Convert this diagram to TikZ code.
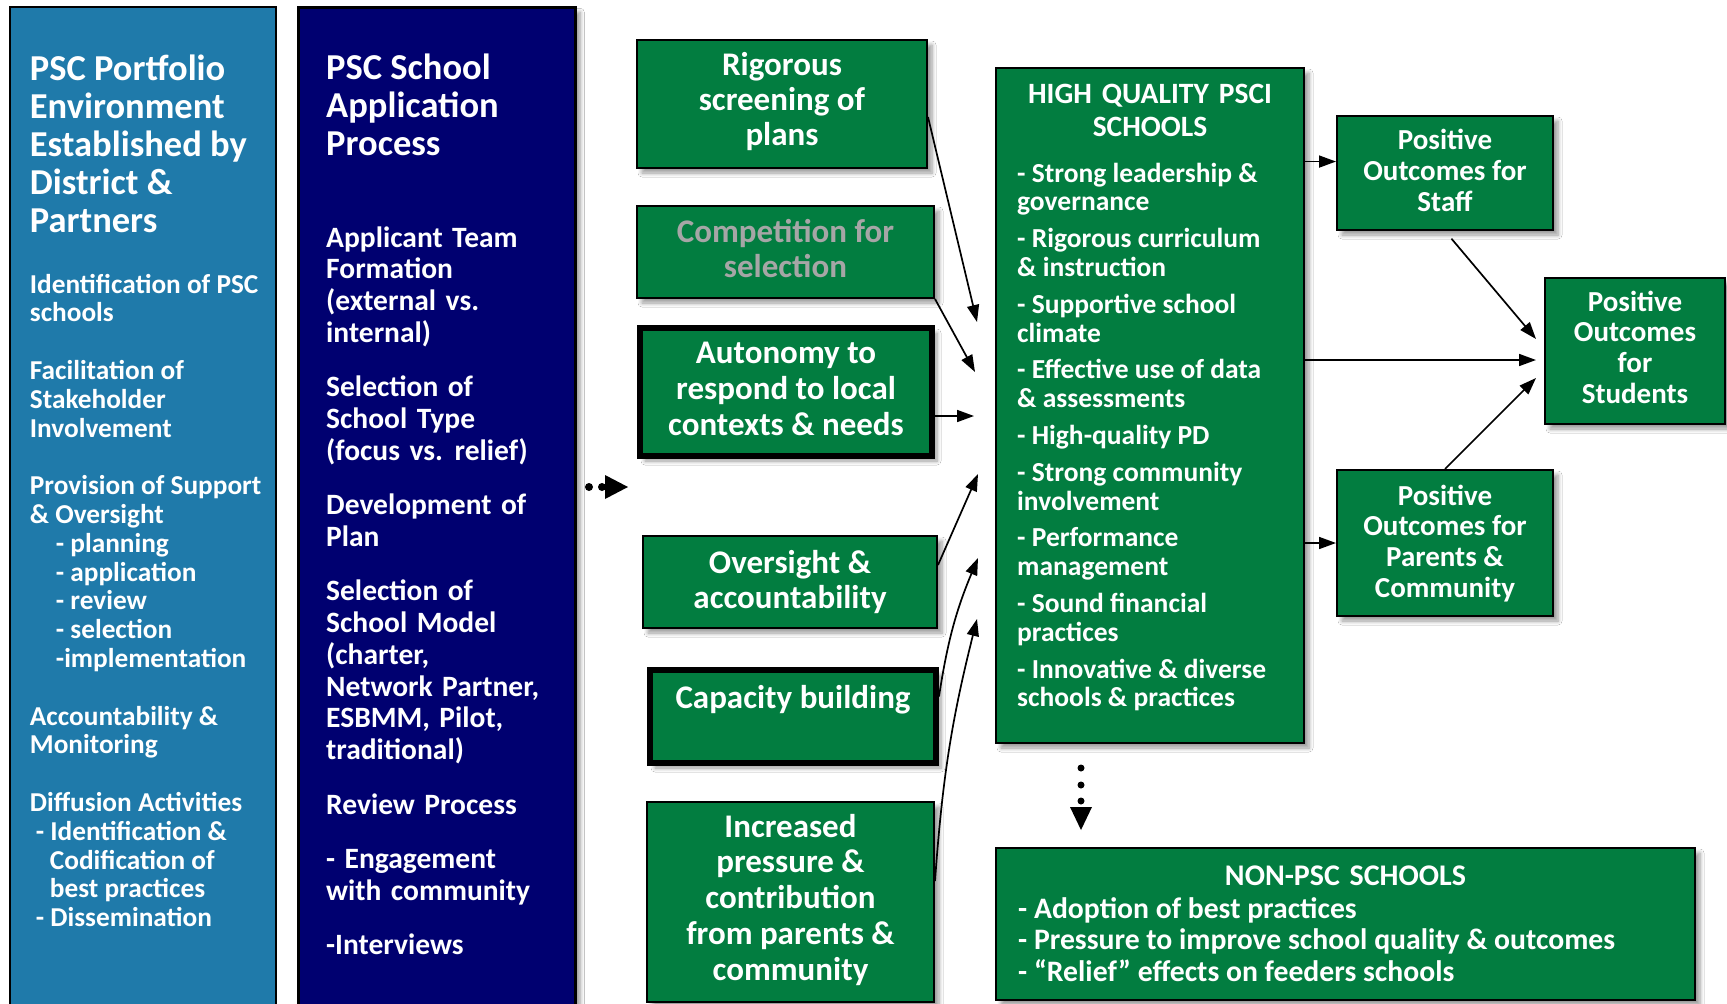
\documentclass[tikz,border=0pt]{standalone}
\usepackage{fontspec}
\setmainfont{Carlito}
\usetikzlibrary{arrows.meta,shadows.blur}
\definecolor{portblue}{RGB}{31,122,170}
\definecolor{appnavy}{RGB}{0,0,112}
\definecolor{boxgreen}{RGB}{2,125,64}
\definecolor{mutedgray}{RGB}{166,166,166}
% font size / line spacing in pt
\newcommand\fsz[2]{\fontsize{#1pt}{#2pt}\selectfont}
% top-aligned text blocks: the node's base is the first line's baseline
\newcommand\linesblock[2]{\parbox[t]{#1pt}{\lineskiplimit=-100pt\relax #2}}
\newcommand\centerblock[2]{\parbox[t]{#1pt}{\centering\lineskiplimit=-100pt\relax #2}}
\tikzset{
  panel/.style={draw=black, anchor=north west, inner sep=0pt},
  gbox/.style={draw=black, line width=2pt, fill=boxgreen, inner sep=0pt},
  heavy/.style={line width=6pt},
  softshadow/.style={blur shadow={shadow xshift=5pt, shadow yshift=-5pt,
      shadow blur radius=4pt, shadow blur steps=6, shadow opacity=40}},
  wtext/.style={inner sep=0pt, text=white, font=\bfseries, anchor=base},
  lwtext/.style={wtext, anchor=base west},
  arr/.style={line width=1.7pt, -{Triangle[length=17pt,width=12pt]}},
}
\begin{document}
\begin{tikzpicture}[x=1pt,y=-1pt]
\fill[white] (0,0) rectangle (1727,1004);
\useasboundingbox (0,0) rectangle (1727,1004);

% ---------- left column: portfolio environment ----------
\node[panel, fill=portblue, line width=1.5pt, minimum width=266, minimum height=1010] (port) at (9,6) {};
\node[lwtext] (portT) at (29.7,80) {\linesblock{240}{\fsz{36.5}{38}PSC Portfolio\\Environment\\Established by\\District \&\\Partners}};
\node[lwtext] (portL) at (29.7,293) {\linesblock{245}{\fsz{27.3}{28.8}Identification of PSC\\schools\\[28.8pt]Facilitation of\\Stakeholder\\Involvement\\[28.8pt]Provision of Support\\\& Oversight\\\hspace*{26pt}- planning\\\hspace*{26pt}- application\\\hspace*{26pt}- review\\\hspace*{26pt}- selection\\\hspace*{26pt}-implementation\\[28.8pt]Accountability \&\\Monitoring\\[28.8pt]Diffusion Activities\\\hspace*{6pt}- Identification \&\\\hspace*{20pt}Codification of\\\hspace*{20pt}best practices\\\hspace*{6pt}- Dissemination}};

% ---------- second column: application process ----------
\node[panel, fill=appnavy, line width=2.5pt, minimum width=277, minimum height=1010, softshadow] (proc) at (297,6) {};
\node[lwtext] (procT) at (326,79) {\linesblock{240}{\fsz{36.5}{38}PSC School\\Application\\Process}};
\node[lwtext] (procL) at (326,247) {\linesblock{245}{\fsz{29.5}{31.8}\spaceskip=0.32em plus 0.1em Applicant Team\\Formation\\(external vs.\\internal)\\[22.5pt]Selection of\\School Type\\(focus vs. relief)\\[22.5pt]Development of\\Plan\\[22.5pt]Selection of\\School Model\\(charter,\\Network Partner,\\ESBMM, Pilot,\\traditional)\\[22.5pt]Review Process\\[22.5pt]- Engagement\\with community\\[22.5pt]-Interviews}};

% dotted arrow between the columns and the mechanisms
\fill (589,487) circle[radius=4pt];
\fill (602,487) circle[radius=4pt];
\fill (605,475) -- (628,487) -- (605,499) -- cycle;

% ---------- mechanisms ----------
\node[gbox, softshadow, minimum width=290, minimum height=128] (rig) at (782,104) {};
\node[wtext] (rigT) at (782,75) {\centerblock{280}{\fsz{33}{35}Rigorous\\screening of\\plans}};

\node[gbox, softshadow, minimum width=297, minimum height=92] (comp) at (785.5,252) {};
\node[wtext, text=mutedgray] (compT) at (785.5,242) {\centerblock{285}{\fsz{33}{35}Competition for\\selection}};

\node[gbox, heavy, softshadow, minimum width=292, minimum height=128] (auto) at (786,392) {};
\node[wtext] (autoT) at (786,363) {\centerblock{285}{\fsz{33}{36}Autonomy to\\respond to local\\contexts \& needs}};

\node[gbox, softshadow, minimum width=294, minimum height=92] (over) at (790,582) {};
\node[wtext] (overT) at (790,573) {\centerblock{285}{\fsz{33}{35}Oversight \&\\accountability}};

\node[gbox, heavy, softshadow, minimum width=286, minimum height=93] (cap) at (793,716.5) {};
\node[wtext] (capT) at (793,708) {\centerblock{280}{\fsz{33}{35}Capacity building}};

\node[gbox, softshadow, minimum width=287, minimum height=200] (incr) at (790.5,902) {};
\node[wtext] (incrT) at (790.5,837) {\centerblock{280}{\fsz{33}{35.8}Increased\\pressure \&\\contribution\\from parents \&\\community}};

% ---------- high quality schools ----------
\node[gbox, softshadow, minimum width=308, minimum height=675] (hq) at (1150,405.5) {};
\node[wtext] (hqT) at (1150,103) {\centerblock{300}{\fsz{29.5}{33}\spaceskip=0.34em HIGH QUALITY PSCI\\SCHOOLS}};
\node[lwtext] (hqL) at (1017,182) {\linesblock{280}{\fsz{27.5}{28.8}- Strong leadership \&\\governance\\[8pt]- Rigorous curriculum\\\& instruction\\[8pt]- Supportive school\\climate\\[8pt]- Effective use of data\\\& assessments\\[8pt]- High-quality PD\\[8pt]- Strong community\\involvement\\[8pt]- Performance\\management\\[8pt]- Sound financial\\practices\\[8pt]- Innovative \& diverse\\schools \& practices}};

% ---------- outcomes ----------
\node[gbox, softshadow, minimum width=216, minimum height=114] (staff) at (1445,173) {};
\node[wtext] (staffT) at (1445,149) {\centerblock{210}{\fsz{29}{31}Positive\\Outcomes for\\Staff}};

\node[gbox, softshadow, minimum width=180, minimum height=146] (stud) at (1635,351) {};
\node[wtext] (studT) at (1635,311) {\centerblock{175}{\fsz{29}{30.7}Positive\\Outcomes\\for\\Students}};

\node[gbox, softshadow, minimum width=216, minimum height=146] (par) at (1445,543) {};
\node[wtext] (parT) at (1445,505) {\centerblock{210}{\fsz{29}{30.7}Positive\\Outcomes for\\Parents \&\\Community}};

% ---------- non-PSC schools ----------
\node[gbox, softshadow, minimum width=699, minimum height=152] (non) at (1345.5,924) {};
\node[wtext] (nonT) at (1345.5,885) {\centerblock{600}{\fsz{30}{31.5}\spaceskip=0.32em NON-PSC SCHOOLS}};
\node[lwtext] (nonL) at (1018,918) {\linesblock{670}{\fsz{29.7}{31.5}- Adoption of best practices\\- Pressure to improve school quality \& outcomes\\- “Relief” effects on feeders schools}};

% dotted arrow towards the non-PSC schools
\fill (1081,768) circle[radius=3.5pt];
\fill (1081,785) circle[radius=3.5pt];
\fill (1081,801) circle[radius=3.5pt];
\fill (1070,807) -- (1092,807) -- (1081,830) -- cycle;

% ---------- connectors ----------
\coordinate (t1) at (977,322);
\coordinate (t2) at (975,372);
\coordinate (t3) at (974,416);
\coordinate (t4) at (978,474);
\coordinate (t5) at (978,558);
\coordinate (t6) at (977,619);
\draw[arr] ([yshift=-13pt]rig.east) -- (t1);
\draw[arr] (comp.south east) -- (t2);
\draw[arr] ([yshift=-24pt]auto.east) -- (t3);
\draw[arr] ([yshift=17pt]over.east) -- (t4);
\draw[arr] ([yshift=20pt]cap.east) to[bend left=7] (t5);
\draw[arr] ([yshift=21pt]incr.east) to[bend left=5] (t6);

\coordinate (s1) at (1536,339);
\coordinate (s2) at (1536,360);
\coordinate (s3) at (1536,378);
\draw[arr] (hq.east |- staff.174) -- (staff.174);
\draw[arr] (hq.east |- par.west) -- (par.west);
\draw[arr] (hq.east |- s2) -- (s2);
\draw[arr, shorten <=10pt] (staff.south) -- (s1);
\draw[arr] (par.north) -- (s3);
\end{tikzpicture}
\end{document}
